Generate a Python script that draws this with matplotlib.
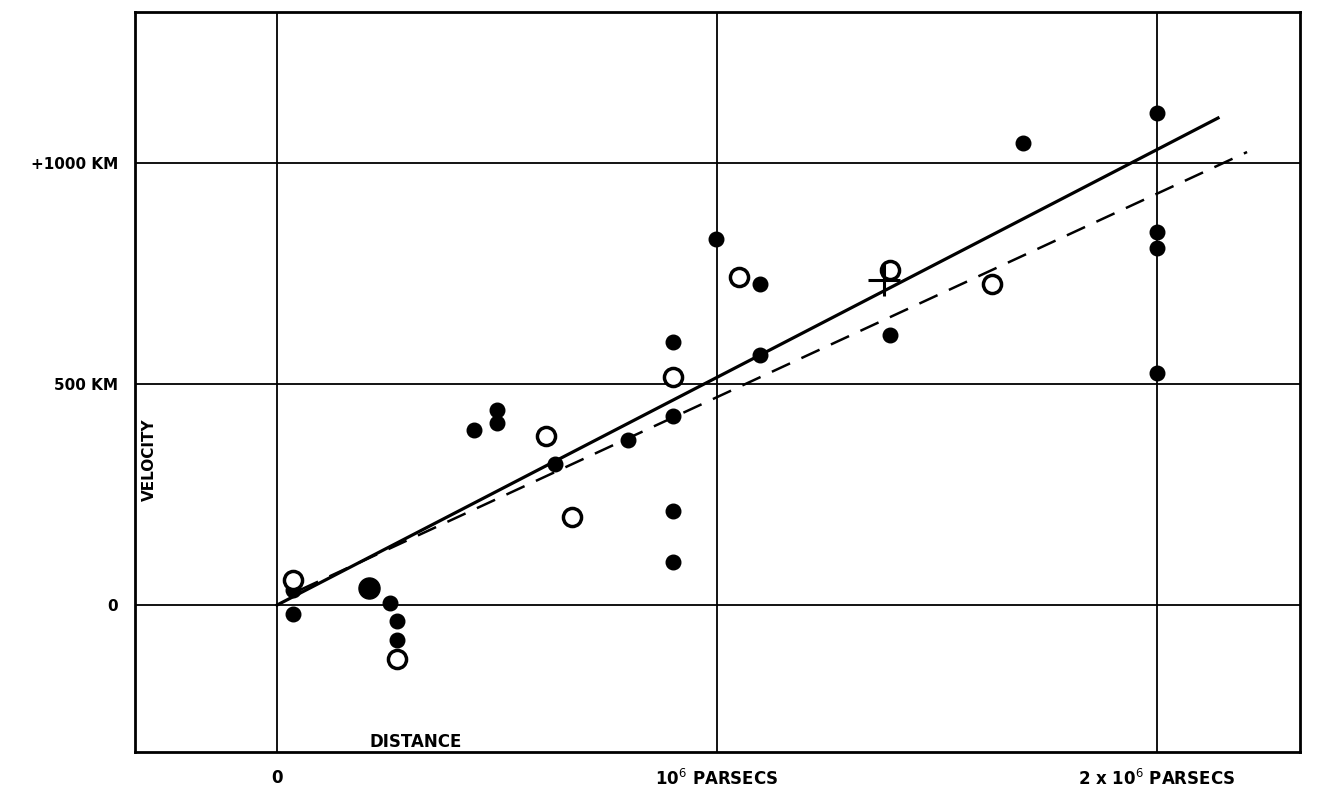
import numpy as np
import matplotlib
matplotlib.use("Agg")
import matplotlib.pyplot as plt

# distances in units of 10^6 parsecs, velocities in km/s
filled_x = [0.036, 0.036, 0.257, 0.273, 0.273, 0.448, 0.50, 0.50, 0.632, 0.798,
            0.90, 0.90, 0.90, 0.90, 0.998, 1.098, 1.098, 1.393, 1.695,
            2.0, 2.0, 2.0, 2.0]
filled_y = [-20, 34, 5, -36, -79, 396, 441, 412, 319, 373,
            595, 428, 213, 97, 828, 726, 566, 611, 1045,
            1113, 844, 808, 525]
big_x = [0.21]
big_y = [38]
open_x = [0.036, 0.273, 0.611, 0.67, 0.90, 1.05, 1.393, 1.625]
open_y = [57, -122, 382, 199, 516, 742, 758, 726]
cross_x = [1.38]
cross_y = [735]

solid_fit = (0.0, 2.139, 0.0, 1102.0)      # x0, x1, y0, y1
dashed_fit = (0.052, 2.205, 34.0, 1025.0)

fig = plt.figure(figsize=(13.23, 7.96), dpi=100)
ax = fig.add_axes([0.102, 0.055, 0.8805, 0.93])
ax.set_xlim(-0.323, 2.325)
ax.set_ylim(-333, 1342)

for v in [0, 1, 2]:
    ax.axvline(v, color="black", lw=1.3)
for v in [0, 500, 1000]:
    ax.axhline(v, color="black", lw=1.3)

ax.plot(solid_fit[:2], solid_fit[2:], color="black", lw=2.3)
ax.plot(dashed_fit[:2], dashed_fit[2:], color="black", lw=1.8, dashes=(8, 5))

ax.scatter(filled_x, filled_y, s=110, color="black", zorder=3)
ax.scatter(big_x, big_y, s=230, color="black", zorder=3)
ax.scatter(open_x, open_y, s=170, facecolor="white", edgecolor="black",
           linewidth=2.5, zorder=3)
ax.scatter(cross_x, cross_y, s=500, marker="+", color="black", linewidth=2.2, zorder=4)

ax.set_xticks([0, 1, 2])
ax.set_xticklabels(["0", "10$^6$ PARSECS", "2 x 10$^6$ PARSECS"],
                   fontsize=12, fontweight="bold")
ax.set_yticks([0, 500, 1000])
ax.set_yticklabels(["0", "500 KM", "+1000 KM"], fontsize=11, fontweight="bold")
ax.tick_params(length=0, pad=12)
for s in ax.spines.values():
    s.set_linewidth(2)

ax.text(-0.29, 330, "VELOCITY", rotation=90, fontsize=11, fontweight="bold",
        ha="center", va="center")
ax.text(0.315, -310, "DISTANCE", fontsize=12, fontweight="bold",
        ha="center", va="center")

fig.savefig("out.png", dpi=100)
